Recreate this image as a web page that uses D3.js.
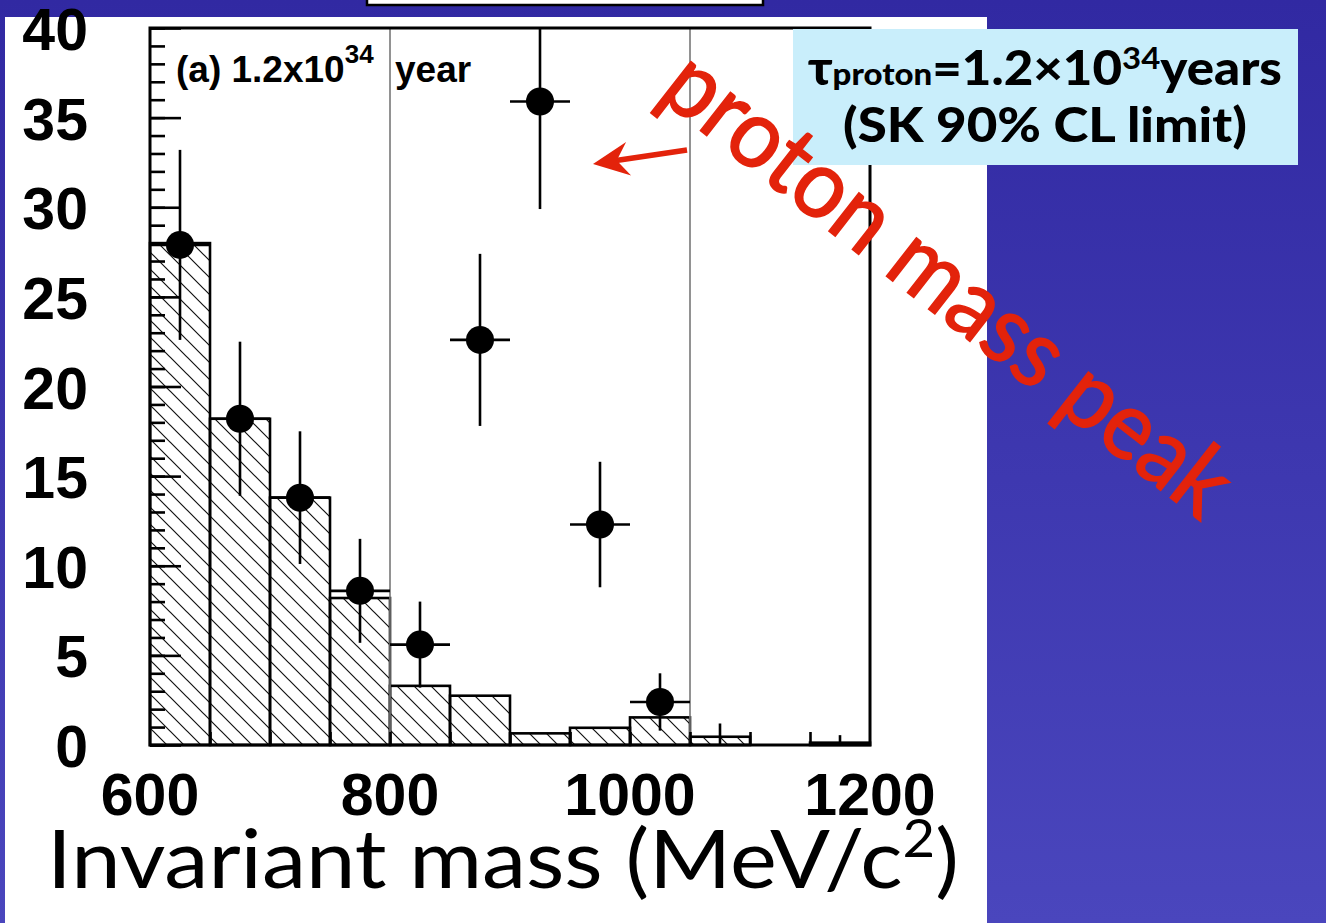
<!DOCTYPE html>
<html>
<head>
  <meta charset="utf-8" />
  <title>Invariant mass</title>
  <script type="text/javascript" src="https://cdn.jsdelivr.net/npm/d3@7"></script>
  <style type="text/css">
  body { margin: 0; padding: 0; overflow: hidden; }
  .num { font-family: "Liberation Sans", Arial, Helvetica, sans-serif; font-weight: bold; fill: #000; }
  .gill { font-family: Lato, "Noto Sans", sans-serif; }
  </style>
</head>
<body>
  <script type="text/javascript">
    // background MC histogram (50 MeV bins, lower edges)
    var bgBinLow = [600, 650, 700, 750, 800, 850, 900, 950, 1000, 1050, 1100, 1150],
        bgCounts = [28.0, 18.2, 13.8, 8.2, 3.3, 2.75, 0.65, 0.96, 1.54, 0.46, 0.0, 0.13],
        binWidth = 50

    // signal + background "data" points
    var dataMass = [625, 675, 725, 775, 825, 875, 925, 975, 1025],
        dataCounts = [27.9, 18.2, 13.8, 8.6, 5.6, 22.6, 35.9, 12.3, 2.4],
        dataErr = [5.3, 4.3, 3.7, 2.9, 2.4, 4.8, 6.0, 3.5, 1.6]

    // empty bins, only the upper error stub is drawn
    var emptyMass = [1075, 1175],
        emptyErr = [1.2, 0.55]

    var windowEdges = [800, 1050],
        yTickLabels = [0, 5, 10, 15, 20, 25, 30, 35, 40],
        xTickLabels = [600, 800, 1000, 1200],
        xMinorTicks = [650, 700, 750, 800, 850, 900, 950, 1000, 1050, 1100, 1150]

    var w = 1326, h = 923,
        x = d3.scaleLinear().domain([600, 1200]).range([150, 870]),
        y = d3.scaleLinear().domain([0, 40]).range([745, 28])

    var svg = d3.select(document.body).append('svg')
      .attr('width', w)
      .attr('height', h)

    var defs = svg.append('defs')
    var grad = defs.append('linearGradient')
      .attr('id', 'bg').attr('x1', 0).attr('y1', 0).attr('x2', 0).attr('y2', 1)
    grad.append('stop').attr('offset', '0%').attr('stop-color', '#3129a2')
    grad.append('stop').attr('offset', '100%').attr('stop-color', '#4a46bd')

    var hatch = defs.append('pattern')
      .attr('id', 'hatch')
      .attr('patternUnits', 'userSpaceOnUse')
      .attr('width', 17).attr('height', 17)
    hatch.append('path')
      .attr('d', 'M-4,13L4,21M0,0L17,17M13,-4L21,4')
      .attr('stroke', '#111').attr('stroke-width', 1.2)

    // slide background + white panel
    svg.append('rect').attr('width', w).attr('height', h).attr('fill', 'url(#bg)')
    svg.append('rect').attr('x', 5).attr('y', 17).attr('width', 982).attr('height', h - 17).attr('fill', '#fff')
    svg.append('rect').attr('x', 367).attr('y', -40).attr('width', 396).attr('height', 45)
      .attr('fill', '#fff').attr('stroke', '#000').attr('stroke-width', 2.5)

    var plot = svg.append('g')

    // histogram bars
    plot.selectAll('rect.bin')
      .data(bgCounts)
    .enter().append('rect')
      .attr('class', 'bin')
      .attr('x', function(d, i) { return x(bgBinLow[i]) })
      .attr('width', function(d, i) { return x(bgBinLow[i] + binWidth) - x(bgBinLow[i]) })
      .attr('y', function(d) { return y(d) })
      .attr('height', function(d) { return y(0) - y(d) })
      .attr('fill', 'url(#hatch)')
      .attr('stroke', '#000')
      .attr('stroke-width', 2.6)

    // signal window lines
    plot.selectAll('line.win')
      .data(windowEdges)
    .enter().append('line')
      .attr('x1', x).attr('x2', x)
      .attr('y1', y(40)).attr('y2', y(0))
      .attr('stroke', '#777').attr('stroke-width', 1.6)

    // axis ticks
    var yMinor = d3.axisLeft(y).tickValues(d3.range(0, 41)).tickSize(-15).tickFormat('')
    var yMajor = d3.axisLeft(y).tickValues(yTickLabels).tickSize(-31).tickFormat('')
    var xMinor = d3.axisBottom(x).tickValues(xMinorTicks).tickSize(-13).tickFormat('')
    ;[yMinor, yMajor].forEach(function(a) {
      var g = plot.append('g').attr('transform', 'translate(150,0)').call(a)
      g.select('.domain').remove()
      g.selectAll('line').attr('stroke', '#000').attr('stroke-width', 2.6)
    })
    var gx = plot.append('g').attr('transform', 'translate(0,745)').call(xMinor)
    gx.select('.domain').remove()
    gx.selectAll('line').attr('stroke', '#000').attr('stroke-width', 2.6)

    // empty-bin stubs
    plot.selectAll('line.empty')
      .data(emptyMass)
    .enter().append('line')
      .attr('x1', x).attr('x2', x)
      .attr('y1', y(0)).attr('y2', function(d, i) { return y(emptyErr[i]) })
      .attr('stroke', '#000').attr('stroke-width', 2.6)

    // data points
    var pts = plot.selectAll('g.pt')
      .data(dataMass)
    .enter().append('g')
    pts.append('line')
      .attr('x1', x).attr('x2', x)
      .attr('y1', function(d, i) { return y(Math.min(40, dataCounts[i] + dataErr[i])) })
      .attr('y2', function(d, i) { return y(dataCounts[i] - dataErr[i]) })
      .attr('stroke', '#000').attr('stroke-width', 2.6)
    pts.append('line')
      .attr('x1', function(d) { return x(d - binWidth / 2) })
      .attr('x2', function(d) { return x(d + binWidth / 2) })
      .attr('y1', function(d, i) { return y(dataCounts[i]) })
      .attr('y2', function(d, i) { return y(dataCounts[i]) })
      .attr('stroke', '#000').attr('stroke-width', 2.6)
    pts.append('circle')
      .attr('cx', x)
      .attr('cy', function(d, i) { return y(dataCounts[i]) })
      .attr('r', 14)
      .attr('fill', '#000')

    // frame
    plot.append('line').attr('x1', 150).attr('x2', 870).attr('y1', 28).attr('y2', 28)
      .attr('stroke', '#000').attr('stroke-width', 2)
    plot.append('rect').attr('x', 150).attr('y', 28).attr('width', 720).attr('height', 717)
      .attr('fill', 'none').attr('stroke', '#000').attr('stroke-width', 3)

    // plot label
    var lab = plot.append('text').attr('class', 'num').attr('x', 176).attr('y', 82).style('font-size', '37px')
    lab.append('tspan').text('(a) 1.2x10')
    lab.append('tspan').attr('dy', -19).style('font-size', '26px').text('34')
    lab.append('tspan').attr('x', 395).attr('dy', 19).text('year')

    // tick labels
    svg.selectAll('text.ylab')
      .data(yTickLabels)
    .enter().append('text')
      .attr('class', 'num')
      .attr('x', 88)
      .attr('y', function(d) { return y(d) + 22 })
      .attr('text-anchor', 'end')
      .style('font-size', '59px')
      .text(function(d) { return d })

    svg.selectAll('text.xlab')
      .data(xTickLabels)
    .enter().append('text')
      .attr('class', 'num')
      .attr('x', x)
      .attr('y', 815)
      .attr('text-anchor', 'middle')
      .style('font-size', '59px')
      .text(function(d) { return d })

    function fit(sel, x0, y0, width, rot) {
      var bb = sel.node().getBBox(), k = width / bb.width
      sel.attr('transform', 'translate(' + x0 + ',' + y0 + ')' + (rot ? ' rotate(' + rot + ')' : '') +
        ' scale(' + k + ',1) translate(' + (-bb.x) + ',0)')
    }

    // axis title
    var title = svg.append('text').attr('class', 'gill').style('font-size', '82px').attr('fill', '#000')
    title.append('tspan').text('Invariant mass (MeV/c')
    title.append('tspan').attr('dy', -31).style('font-size', '52px').text('2')
    title.append('tspan').attr('dy', 31).text(')')
    fit(title, 47, 888, 912)

    // SK limit box
    svg.append('rect').attr('x', 793).attr('y', 29).attr('width', 505).attr('height', 136).attr('fill', '#c9eefb')
    var l1 = svg.append('text').attr('class', 'gill').style('font-size', '48px').style('font-weight', '900')
    l1.append('tspan').text('τ')
    l1.append('tspan').style('font-size', '31px').text('proton')
    l1.append('tspan').text('=1.2×10')
    l1.append('tspan').attr('dy', -16).style('font-size', '31px').style('font-weight', 'bold').text('34')
    l1.append('tspan').attr('dy', 16).text('years')
    fit(l1, 808, 85, 474)
    var l2 = svg.append('text').attr('class', 'gill').style('font-size', '48px').style('font-weight', '900')
      .text('(SK 90% CL limit)')
    fit(l2, 843, 142, 404)

    // red annotation
    var red = '#e3230b'
    var ann = svg.append('text').attr('class', 'gill').style('font-size', '96px')
      .attr('fill', red).attr('stroke', red).attr('stroke-width', 1.6)
      .text('proton mass peak')
    fit(ann, 656, 96, 692, 38)

    var tail = [687, 150], tip = [593, 164]
    var dx = tail[0] - tip[0], dy = tail[1] - tip[1], len = Math.sqrt(dx * dx + dy * dy)
    var ux = dx / len, uy = dy / len, px = -uy, py = ux
    svg.append('line')
      .attr('x1', tail[0]).attr('y1', tail[1])
      .attr('x2', tip[0] + ux * 20).attr('y2', tip[1] + uy * 20)
      .attr('stroke', red).attr('stroke-width', 5.5)
    svg.append('path')
      .attr('d', d3.line()([
        tip,
        [tip[0] + ux * 36 + px * 17, tip[1] + uy * 36 + py * 17],
        [tip[0] + ux * 24, tip[1] + uy * 24],
        [tip[0] + ux * 36 - px * 17, tip[1] + uy * 36 - py * 17]
      ]) + 'Z')
      .attr('fill', red)
  </script>
</body>
</html>
